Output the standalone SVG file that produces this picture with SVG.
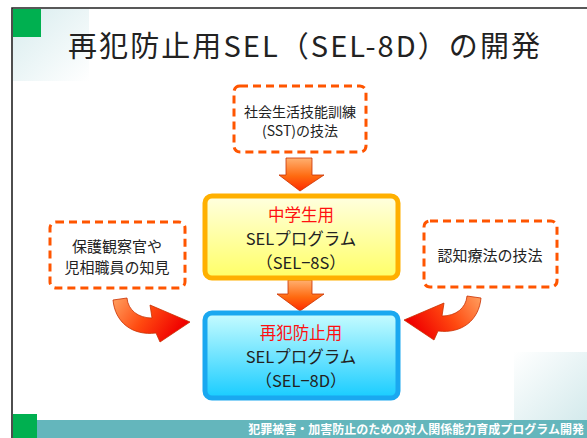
<svg xmlns="http://www.w3.org/2000/svg" width="587" height="438" viewBox="0 0 587 438">
<defs>
<linearGradient id="tl" x1="0" y1="0" x2="1" y2="1"><stop offset="0" stop-color="#d8ecee"/><stop offset="1" stop-color="#ffffff"/></linearGradient>
<linearGradient id="br" x1="0" y1="0" x2="1" y2="1"><stop offset="0" stop-color="#ffffff"/><stop offset="1" stop-color="#d4eaec"/></linearGradient>
<linearGradient id="yel" x1="0" y1="0" x2="0" y2="1"><stop offset="0" stop-color="#ffffe0"/><stop offset="1" stop-color="#ffff66"/></linearGradient>
<linearGradient id="blu" x1="0" y1="0" x2="0" y2="1"><stop offset="0" stop-color="#c8fcff"/><stop offset="1" stop-color="#18ccff"/></linearGradient>
<linearGradient id="dn" x1="0" y1="0" x2="0" y2="1"><stop offset="0" stop-color="#ffb070"/><stop offset="0.55" stop-color="#ff6a10"/><stop offset="1" stop-color="#ff2a00"/></linearGradient>
<linearGradient id="cv" x1="0" y1="0" x2="1" y2="0.4"><stop offset="0" stop-color="#ffa060"/><stop offset="0.5" stop-color="#ff4a10"/><stop offset="1" stop-color="#f00000"/></linearGradient>
<style>
.dash{fill:#fff;stroke:#ff5500;stroke-width:3;stroke-dasharray:8 5}
.t{font-family:"Noto Sans CJK JP","Noto Sans",sans-serif;fill:#222;text-anchor:middle}
.red{fill:#ff1010}
.arr{stroke:#c83000;stroke-width:0.8}
</style>
</defs>
<rect x="13" y="9" width="76" height="72" fill="url(#tl)"/>
<rect x="514" y="352" width="73" height="68" fill="url(#br)"/>
<rect x="13" y="9" width="28" height="28" fill="#00b050"/>
<path d="M12 438 V8 H587" fill="none" stroke="#222" stroke-width="1.6"/>
<rect x="37" y="420" width="550" height="18" fill="#64b6bc"/>
<rect x="13" y="414" width="24" height="24" fill="#00b050"/>
<text x="584" y="434" font-family="'Noto Sans CJK JP',sans-serif" font-size="12" font-weight="bold" fill="#fff" text-anchor="end">犯罪被害・加害防止のための対人関係能力育成プログラム開発</text>
<text x="304" y="57" class="t" font-size="29" textLength="472" lengthAdjust="spacing">再犯防止用SEL（SEL-8D）の開発</text>

<g id="connectors">
<path class="arr" fill="url(#dn)" d="M286 158 H312 V175 H324 L300 191 L279 175 H286 Z"/>
<path class="arr" fill="url(#dn)" d="M288 280 H312 V294 H324 L300 311 L277 294 H288 Z"/>
<path class="arr" fill="url(#cv)" d="M113 300 L127 298 C128 310 138 318 152 318 L150 305 L190 322 L160 342 L156 333 C132 336 115 322 113 300 Z"/>
<path class="arr" fill="url(#cv)" transform="translate(594,-2) scale(-1,1)" d="M113 300 L127 298 C128 310 138 318 152 318 L150 305 L190 322 L160 342 L156 333 C132 336 115 322 113 300 Z"/>
</g>

<g id="sst">
<rect class="dash" x="234" y="86" width="132" height="66" rx="6"/>
<text class="t" x="300" y="117" font-size="14">社会生活技能訓練</text>
<text class="t" x="300" y="136" font-size="14">(SST)の技法</text>
</g>
<g id="left">
<rect class="dash" x="50" y="222" width="135" height="66" rx="6"/>
<text class="t" x="117" y="252" font-size="15">保護観察官や</text>
<text class="t" x="117" y="273" font-size="15">児相職員の知見</text>
</g>
<g id="right">
<rect class="dash" x="424" y="221" width="133" height="66" rx="6"/>
<text class="t" x="490" y="261" font-size="15">認知療法の技法</text>
</g>
<g id="sel8s">
<rect x="205" y="196" width="193" height="82" rx="7" fill="url(#yel)" stroke="#ffb000" stroke-width="5"/>
<text class="t red" x="301" y="221" font-size="16.5">中学生用</text>
<text class="t" x="301" y="245" font-size="16.5">SELプログラム</text>
<text class="t" x="301" y="269" font-size="16.5">（SEL−8S）</text>
</g>
<g id="sel8d">
<rect x="205" y="313" width="193" height="85" rx="7" fill="url(#blu)" stroke="#1aa8f0" stroke-width="5"/>
<text class="t red" x="301" y="339" font-size="16.5">再犯防止用</text>
<text class="t" x="301" y="363" font-size="16.5">SELプログラム</text>
<text class="t" x="301" y="387" font-size="16.5">（SEL−8D）</text>
</g>
</svg>
